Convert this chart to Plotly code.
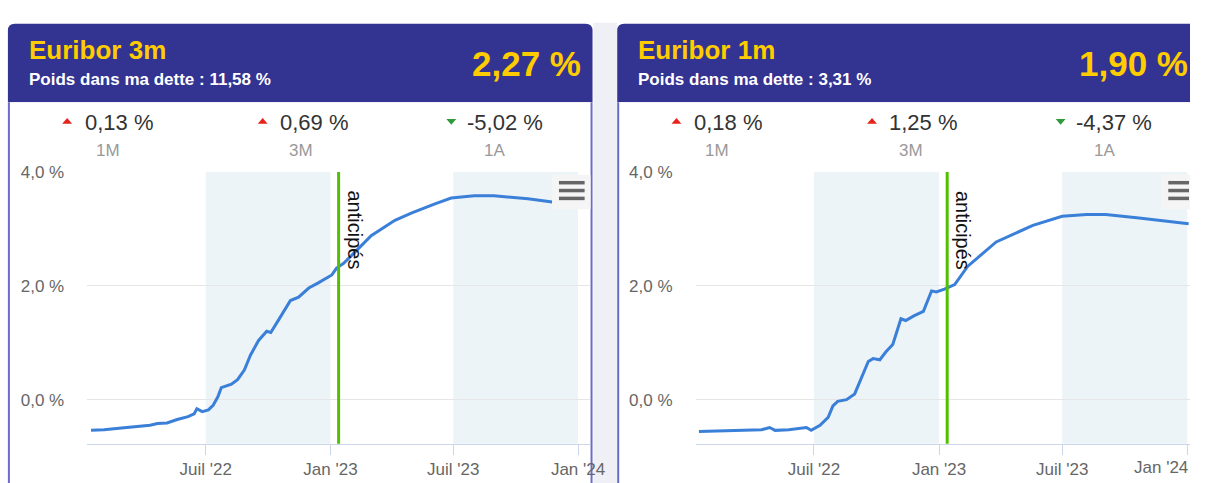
import plotly.graph_objects as go

W, H = 1205, 483

# ---------------- data ----------------
dates_3m = ["2022-01-13", "2022-02-01", "2022-02-27", "2022-03-20", "2022-04-10", "2022-04-21",
            "2022-05-05", "2022-05-20", "2022-06-05", "2022-06-14", "2022-06-18", "2022-06-26",
            "2022-07-05", "2022-07-12", "2022-07-19", "2022-07-24", "2022-08-08", "2022-08-17",
            "2022-08-27", "2022-09-05", "2022-09-17", "2022-09-29", "2022-10-05", "2022-10-17",
            "2022-11-03", "2022-11-15", "2022-11-30", "2022-12-14", "2022-12-29", "2023-01-03",
            "2023-01-10", "2023-01-20", "2023-02-06", "2023-03-02", "2023-04-06", "2023-05-01",
            "2023-06-04", "2023-06-28", "2023-08-01", "2023-08-30", "2023-10-19", "2023-11-24"]
vals_3m = [-0.54, -0.53, -0.50, -0.48, -0.45, -0.42,
           -0.41, -0.35, -0.30, -0.25, -0.16, -0.21,
           -0.18, -0.10, 0.05, 0.21, 0.27, 0.35,
           0.52, 0.78, 1.04, 1.20, 1.18, 1.41,
           1.74, 1.80, 1.96, 2.05, 2.16, 2.19,
           2.31, 2.39, 2.59, 2.88, 3.15, 3.28,
           3.44, 3.54, 3.58, 3.58, 3.53, 3.47]

dates_1m = ["2022-01-13", "2022-02-10", "2022-03-10", "2022-04-15", "2022-04-27", "2022-05-05",
            "2022-05-25", "2022-06-20", "2022-06-27", "2022-07-10", "2022-07-22", "2022-07-29",
            "2022-08-05", "2022-08-18", "2022-08-30", "2022-09-09", "2022-09-19", "2022-09-26",
            "2022-10-06", "2022-10-15", "2022-10-25", "2022-11-06", "2022-11-13", "2022-11-25",
            "2022-12-09", "2022-12-21", "2022-12-28", "2023-01-09", "2023-01-24", "2023-02-12",
            "2023-03-26", "2023-05-19", "2023-07-01", "2023-08-06", "2023-09-03", "2023-10-22",
            "2024-01-03"]
vals_1m = [-0.56, -0.55, -0.54, -0.53, -0.49, -0.54,
           -0.53, -0.49, -0.54, -0.45, -0.31, -0.11,
           -0.03, 0.00, 0.10, 0.38, 0.67, 0.72,
           0.70, 0.84, 0.97, 1.42, 1.39, 1.47,
           1.55, 1.91, 1.89, 1.94, 2.02, 2.34,
           2.77, 3.06, 3.22, 3.25, 3.25, 3.19,
           3.09]

x_tickvals = ["2022-07-01", "2023-01-01", "2023-07-01", "2024-01-01"]
x_ticktext = ["Juil '22", "Jan '23", "Juil '23", "Jan '24"]
y_tickvals = [0, 2, 4]
y_ticktext = ["0,0 %", "2,0 %", "4,0 %"]
bands = [("2022-07-01", "2023-01-01"), ("2023-07-01", "2024-01-01")]
forecast_start = "2023-01-13"
forecast_label = "anticipés"

titles = ["Euribor 3m", "Euribor 1m"]
weights = ["Poids dans ma dette : 11,58 %", "Poids dans ma dette : 3,31 %"]
current = ["2,27 %", "1,90 %"]
changes = [["0,13 %", "0,69 %", "-5,02 %"], ["0,18 %", "1,25 %", "-4,37 %"]]
directions = [[1, 1, -1], [1, 1, -1]]
periods = ["1M", "3M", "1A"]

# ---------------- styling ----------------
FONT = "Liberation Sans, Arial, sans-serif"
HEADER = "#333391"
BORDER = "#6b6bc8"
YELLOW = "#ffcc00"
LINE = "#3a7fd8"
GREEN = "#52c000"
BAND = "#edf4f7"


def X(px):
    return px / W


def Y(py):
    return 1 - py / H


card_left = [8, 625]
card_w = 592
x_domains = [[88.3 / W, 597 / W], [704.3 / W, 1.0]]
x_ranges = [["2022-01-07 08:00", "2024-01-18"], ["2022-01-08", "2024-01-05"]]
y_domain = [Y(443), Y(166)]
y_range = [-0.775, 4.0]

fig = go.Figure()
shapes = []
annotations = []

# gap between cards
shapes.append(dict(type="rect", xref="paper", yref="paper", x0=X(601), x1=X(625), y0=0, y1=Y(14),
                   fillcolor="#efeff6", line=dict(width=0), layer="below"))

series = [(dates_3m, vals_3m), (dates_1m, vals_1m)]

for i in range(2):
    L = card_left[i]
    full_R = L + card_w
    clipped = full_R > W
    R = W if clipped else full_R
    top, hb, r = 15, 95, 7
    rr = 0 if clipped else r
    # header with rounded top corners
    p = (f"M{X(L)},{Y(hb)} L{X(L)},{Y(top + r)} Q{X(L)},{Y(top)} {X(L + r)},{Y(top)} "
         f"L{X(R - rr)},{Y(top)} Q{X(R)},{Y(top)} {X(R)},{Y(top + rr)} L{X(R)},{Y(hb)} Z")
    shapes.append(dict(type="path", xref="paper", yref="paper", path=p, fillcolor=HEADER,
                       line=dict(width=0), layer="below"))
    # card body and borders
    shapes.append(dict(type="rect", xref="paper", yref="paper", x0=X(L), x1=X(R), y0=0, y1=Y(hb),
                       fillcolor="white", line=dict(width=0), layer="below"))
    shapes.append(dict(type="line", xref="paper", yref="paper", x0=X(L + 1), x1=X(L + 1), y0=0, y1=Y(hb),
                       line=dict(color=BORDER, width=2), layer="below"))
    if not clipped:
        shapes.append(dict(type="line", xref="paper", yref="paper", x0=X(R - 1), x1=X(R - 1), y0=0,
                           y1=Y(hb), line=dict(color=BORDER, width=2), layer="below"))

    annotations.append(dict(xref="paper", yref="paper", x=X(L + 19), y=Y(42), text=f"<b>{titles[i]}</b>",
                            showarrow=False, xanchor="left", yanchor="middle",
                            font=dict(family=FONT, size=26, color=YELLOW)))
    annotations.append(dict(xref="paper", yref="paper", x=X(L + 19), y=Y(72), text=f"<b>{weights[i]}</b>",
                            showarrow=False, xanchor="left", yanchor="middle",
                            font=dict(family=FONT, size=17, color="white")))
    annotations.append(dict(xref="paper", yref="paper", x=X(min(full_R - 10, W)), y=Y(56),
                            text=f"<b>{current[i]}</b>",
                            showarrow=False, xanchor="right", yanchor="middle",
                            font=dict(family=FONT, size=35, color=YELLOW)))

    tri_x = [55, 253, 444]
    txt_x = [76, 273, 463]
    per_x = [101, 297, 493]
    for k in range(3):
        tx = L + tri_x[k]
        if directions[i][k] > 0:
            tp = f"M{X(tx)},{Y(117)} L{X(tx + 10)},{Y(117)} L{X(tx + 5)},{Y(111)} Z"
            col = "#e5231b"
        else:
            tp = f"M{X(tx)},{Y(112)} L{X(tx + 10)},{Y(112)} L{X(tx + 5)},{Y(118)} Z"
            col = "#2e9a3a"
        shapes.append(dict(type="path", xref="paper", yref="paper", path=tp, fillcolor=col,
                           line=dict(width=0), layer="above"))
        annotations.append(dict(xref="paper", yref="paper", x=X(L + txt_x[k]), y=Y(116),
                                text=changes[i][k], showarrow=False, xanchor="left", yanchor="middle",
                                font=dict(family=FONT, size=22, color="#333333")))
        annotations.append(dict(xref="paper", yref="paper", x=X(L + per_x[k]), y=Y(144),
                                text=periods[k], showarrow=False, xanchor="center", yanchor="middle",
                                font=dict(family=FONT, size=17, color="#999999")))

    xa = "x" if i == 0 else "x2"
    ya = "y" if i == 0 else "y2"
    d, v = series[i]
    fig.add_trace(go.Scatter(x=d, y=v, mode="lines", line=dict(color=LINE, width=3),
                             xaxis=xa, yaxis=ya, hoverinfo="skip", showlegend=False))

    for b0, b1 in bands:
        shapes.append(dict(type="rect", xref=xa, yref=f"{ya} domain", x0=b0, x1=b1, y0=0, y1=1,
                           fillcolor=BAND, line=dict(width=0), layer="below"))
    shapes.append(dict(type="line", xref=xa, yref=f"{ya} domain", x0=forecast_start, x1=forecast_start,
                       y0=0, y1=1, line=dict(color=GREEN, width=3), layer="above"))
    annotations.append(dict(xref=xa, yref="paper", x=forecast_start, y=Y(183), text=forecast_label,
                            textangle=90, showarrow=False, xanchor="left", yanchor="top", xshift=3,
                            font=dict(family=FONT, size=20, color="#111111")))

    # hamburger menu
    mx0 = (597 - 32) + 617 * i
    shapes.append(dict(type="rect", xref="paper", yref="paper", x0=X(mx0 - 6), x1=X(min(mx0 + 33, W)),
                       y0=Y(204), y1=Y(169), fillcolor="#f5f5f5", line=dict(width=0), layer="above"))
    for yy in (177, 185, 193):
        shapes.append(dict(type="line", xref="paper", yref="paper", x0=X(mx0 + 1),
                           x1=X(min(mx0 + 27, W - 1)),
                           y0=Y(yy), y1=Y(yy), line=dict(color="#666666", width=3.5), layer="above"))

# right chart: the last tick label sits at the window edge
annotations.append(dict(xref="paper", yref="paper", x=1.0, y=Y(467), text=x_ticktext[-1],
                        showarrow=False, xanchor="right", yanchor="middle",
                        font=dict(family=FONT, size=17, color="#666666")))

axis_common_x = dict(type="date", tickvals=x_tickvals, ticktext=x_ticktext, showgrid=False,
                     showline=True, linecolor="#ccd6eb", linewidth=1, ticks="outside", ticklen=10,
                     tickcolor="#ccd6eb", tickfont=dict(family=FONT, size=17, color="#666666"),
                     zeroline=False, fixedrange=True)
axis_common_y = dict(tickvals=y_tickvals, ticktext=y_ticktext, showgrid=True, gridcolor="#e6e6e6",
                     gridwidth=1, zeroline=False, showline=False, ticks="",
                     tickfont=dict(family=FONT, size=17, color="#666666"), range=y_range,
                     domain=y_domain, ticklabelstandoff=22, fixedrange=True)

fig.update_layout(
    width=W, height=H, margin=dict(l=0, r=0, t=0, b=0),
    paper_bgcolor="white", plot_bgcolor="rgba(0,0,0,0)",
    showlegend=False,
    xaxis=dict(axis_common_x, domain=x_domains[0], range=x_ranges[0], anchor="y"),
    yaxis=dict(axis_common_y, anchor="x"),
    xaxis2=dict(axis_common_x, domain=x_domains[1], range=x_ranges[1], anchor="y2"),
    yaxis2=dict(axis_common_y, anchor="x2"),
    shapes=shapes, annotations=annotations,
)

post = """
document.documentElement.style.margin='0';
document.documentElement.style.padding='0';
document.documentElement.style.overflow='hidden';
document.body.style.margin='0';
document.body.style.padding='0';
document.body.style.overflow='hidden';
var gd = document.getElementById('{plot_id}');
gd.style.position='fixed'; gd.style.left='0px'; gd.style.top='0px';
gd.style.margin='0'; gd.style.overflow='hidden';
"""

fig.write_html("out.html", post_script=post, config={"displayModeBar": False})
